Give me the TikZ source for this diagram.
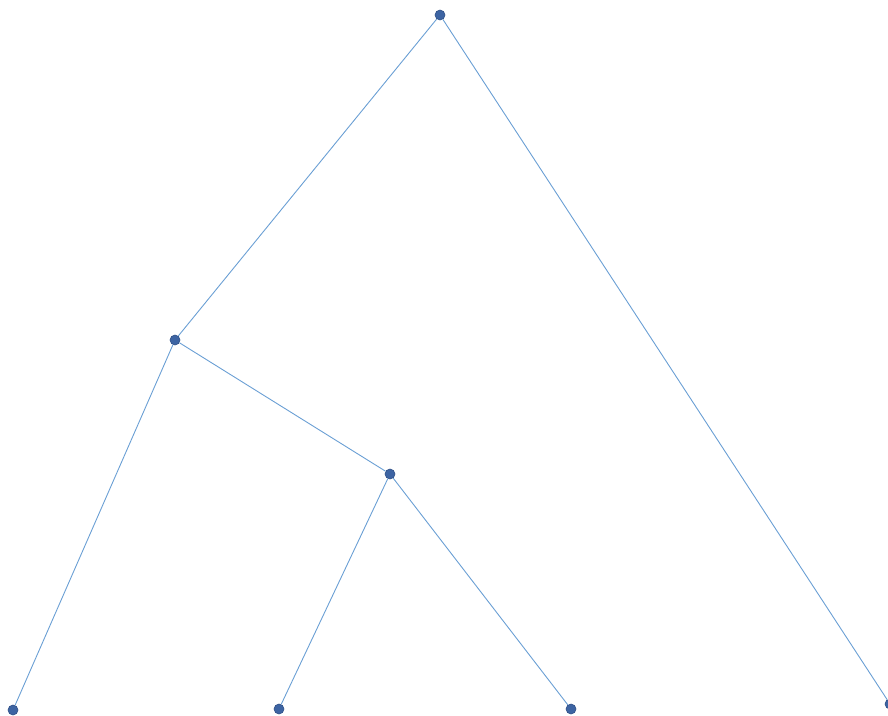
\documentclass[tikz,border=0pt]{standalone}
\definecolor{edgeblue}{HTML}{6A9FD4}
\definecolor{dotblue}{HTML}{3D64A3}
\definecolor{dotrim}{HTML}{2F4F86}
\begin{document}
\begin{tikzpicture}[x=1pt,y=-1pt,
  dot/.style={circle,fill=dotblue,draw=dotrim,line width=0.6pt,inner sep=0pt,minimum size=10pt},
  edge/.style={draw=edgeblue,line width=0.9pt}]
\useasboundingbox (0,0) rectangle (888,715);
\node[dot] (r) at (440,15) {};
\node[dot] (a) at (175,340) {};
\node[dot] (b) at (390,474) {};
\node[dot] (l1) at (13,710) {};
\node[dot] (l2) at (279,709) {};
\node[dot] (l3) at (571,709) {};
\node[dot] (l4) at (890,704) {};
\draw[edge] (r) -- (a);
\draw[edge] (r) -- (l4);
\draw[edge] (a) -- (l1);
\draw[edge] (a) -- (b);
\draw[edge] (b) -- (l2);
\draw[edge] (b) -- (l3);
\end{tikzpicture}
\end{document}
